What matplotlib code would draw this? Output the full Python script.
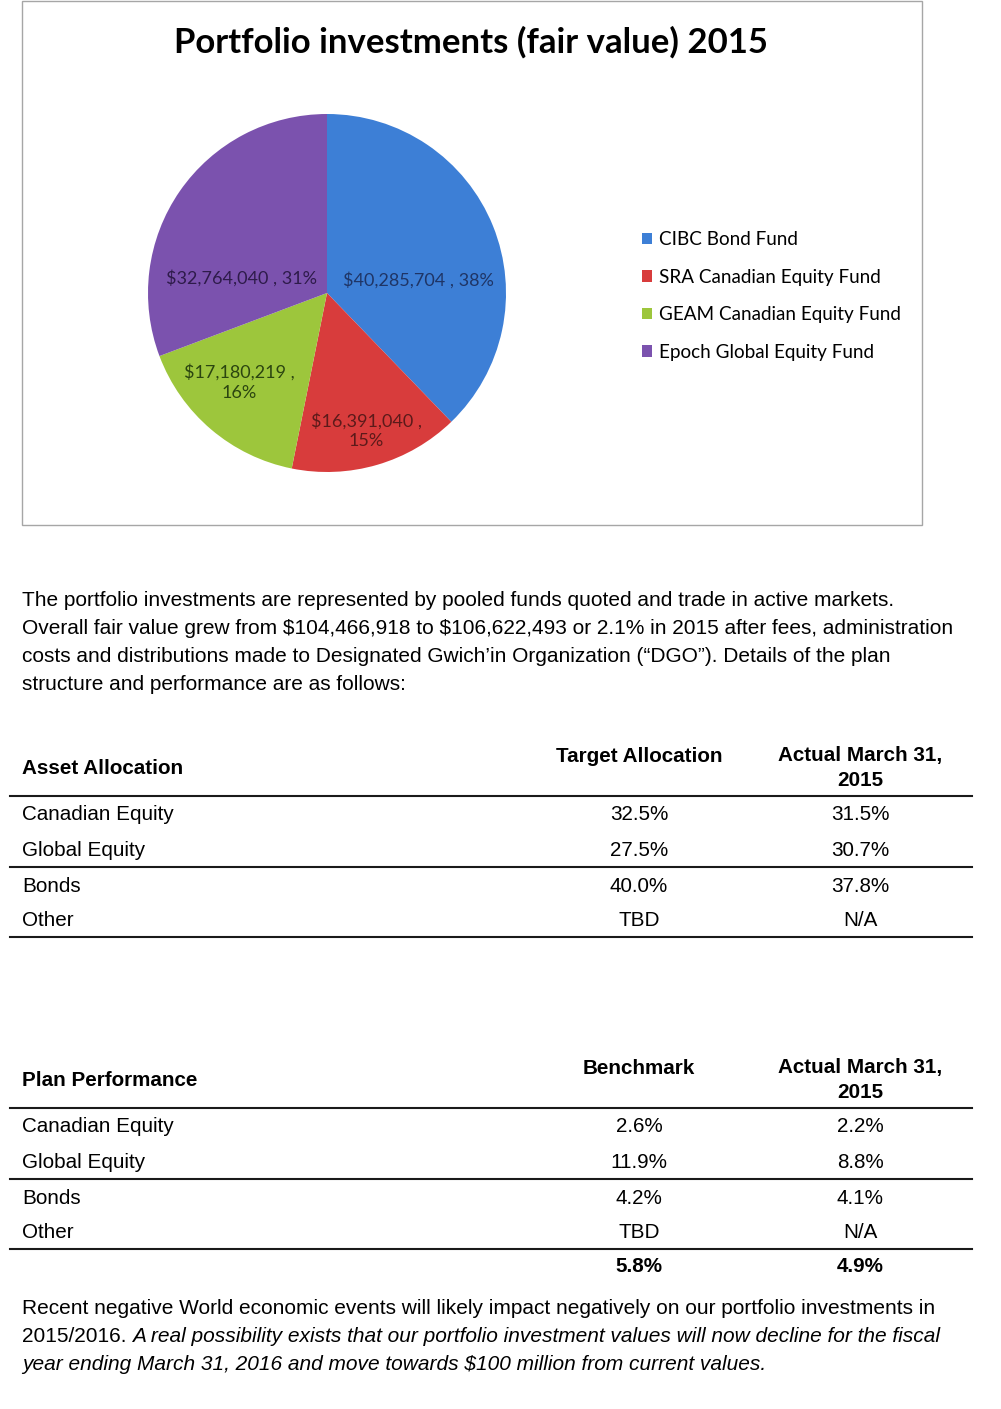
import matplotlib
matplotlib.use("Agg")
import matplotlib.pyplot as plt
from matplotlib.patches import Rectangle

plt.rcParams['text.parse_math'] = False

# data
funds = ['CIBC Bond Fund', 'SRA Canadian Equity Fund', 'GEAM Canadian Equity Fund', 'Epoch Global Equity Fund']
values = [40285704, 16391040, 17180219, 32764040]
colors = ['#3D7FD6', '#D83C3C', '#9DC63C', '#7B52AE']
label_colors = ['#1F3566', '#5C1A1A', '#2B4510', '#2E1B4A']

alloc_rows = ['Canadian Equity', 'Global Equity', 'Bonds', 'Other']
alloc_target = ['32.5%', '27.5%', '40.0%', 'TBD']
alloc_actual = ['31.5%', '30.7%', '37.8%', 'N/A']

perf_rows = ['Canadian Equity', 'Global Equity', 'Bonds', 'Other']
perf_bench = ['2.6%', '11.9%', '4.2%', 'TBD']
perf_actual = ['2.2%', '8.8%', '4.1%', 'N/A']
perf_total = ['5.8%', '4.9%']

W, H = 1001, 1409
fig = plt.figure(figsize=(W / 100, H / 100), dpi=100)
page = fig.add_axes([0, 0, 1, 1])
page.set_xlim(0, W)
page.set_ylim(H, 0)
page.axis('off')

# chart box
page.add_patch(Rectangle((22, 1), 900, 524, fill=False, ec='#a6a6a6', lw=1))
page.text(471, 42, 'Portfolio investments (fair value) 2015', ha='center', va='center',
          fontsize=25, fontweight='bold', family='Lato', color='black')

# pie
cx, cy, r = 327, 293, 179
pax = fig.add_axes([(cx - r) / W, 1 - (cy + r) / H, 2 * r / W, 2 * r / H])
wedges, _ = pax.pie(values, colors=colors, startangle=90, counterclock=False,
                    wedgeprops=dict(linewidth=0))
pax.set_aspect('equal')
pax.set_xlim(-1, 1)
pax.set_ylim(-1, 1)

total = sum(values)
lab_pos = [(0.51, 0.07), (0.22, -0.77), (-0.49, -0.50), (-0.48, 0.08)]
two_line = [False, True, True, False]
for v, pos, tl, c in zip(values, lab_pos, two_line, label_colors):
    sep = ' ,\n' if tl else ' , '
    s = '${:,}'.format(v) + sep + '{:.0f}%'.format(v / total * 100)
    pax.text(pos[0], pos[1], s, ha='center', va='center', fontsize=13,
             family='Lato', color=c, linespacing=1.3)

leg = fig.legend(wedges, funds, loc='upper left', bbox_to_anchor=(642 / W, 1 - 231 / H),
                 frameon=False, prop=dict(family='Lato', size=13.6), handlelength=0.55,
                 handleheight=0.55, handletextpad=0.35, labelspacing=1.09,
                 borderpad=0, borderaxespad=0)

# paragraph 1
body = dict(family='Liberation Sans', fontsize=15, color='black', va='center')
para1 = ['The portfolio investments are represented by pooled funds quoted and trade in active markets.',
         'Overall fair value grew from $104,466,918 to $106,622,493 or 2.1% in 2015 after fees, administration',
         'costs and distributions made to Designated Gwich\u2019in Organization (\u201cDGO\u201d). Details of the plan',
         'structure and performance are as follows:']
for i, line in enumerate(para1):
    page.text(22, 601 + 28 * i, line, **body)

tab = dict(family='Liberation Sans', fontsize=14.9, color='black', va='center')
lw_rule = 1.5


def draw_table(top, title, col1, rows, c1, c2, total_row=None):
    page.text(22, top + 13, title, fontweight='bold', **tab)
    page.text(639, top + 1, col1, ha='center', fontweight='bold', **tab)
    page.text(860, top + 1, 'Actual March 31,', ha='center', fontweight='bold', **tab)
    page.text(860, top + 25, '2015', ha='center', fontweight='bold', **tab)
    page.plot([10, 972], [top + 41, top + 41], color='#1a1a1a', lw=lw_rule)
    ys = [top + 60, top + 95, top + 131, top + 165]
    for y, name, a, b in zip(ys, rows, c1, c2):
        page.text(22, y, name, **tab)
        page.text(639, y, a, ha='center', **tab)
        page.text(860, y, b, ha='center', **tab)
    page.plot([10, 972], [top + 112, top + 112], color='#1a1a1a', lw=lw_rule)
    page.plot([10, 972], [top + 182, top + 182], color='#1a1a1a', lw=lw_rule)
    if total_row:
        page.text(639, top + 200, total_row[0], ha='center', fontweight='bold', **tab)
        page.text(860, top + 200, total_row[1], ha='center', fontweight='bold', **tab)


draw_table(755, 'Asset Allocation', 'Target Allocation', alloc_rows, alloc_target, alloc_actual)
draw_table(1067, 'Plan Performance', 'Benchmark', perf_rows, perf_bench, perf_actual, perf_total)

# closing paragraph
page.text(22, 1309, 'Recent negative World economic events will likely impact negatively on our portfolio investments in', **body)
t = page.text(22, 1337, '2015/2016. ', **body)
page.annotate('A real possibility exists that our portfolio investment values will now decline for the fiscal',
              xy=(1, 0.5), xycoords=t, va='center', ha='left', style='italic',
              family='Liberation Sans', fontsize=15)
page.text(22, 1365, 'year ending March 31, 2016 and move towards $100 million from current values.',
          style='italic', **body)

fig.savefig('out.png', dpi=100, facecolor='white')
